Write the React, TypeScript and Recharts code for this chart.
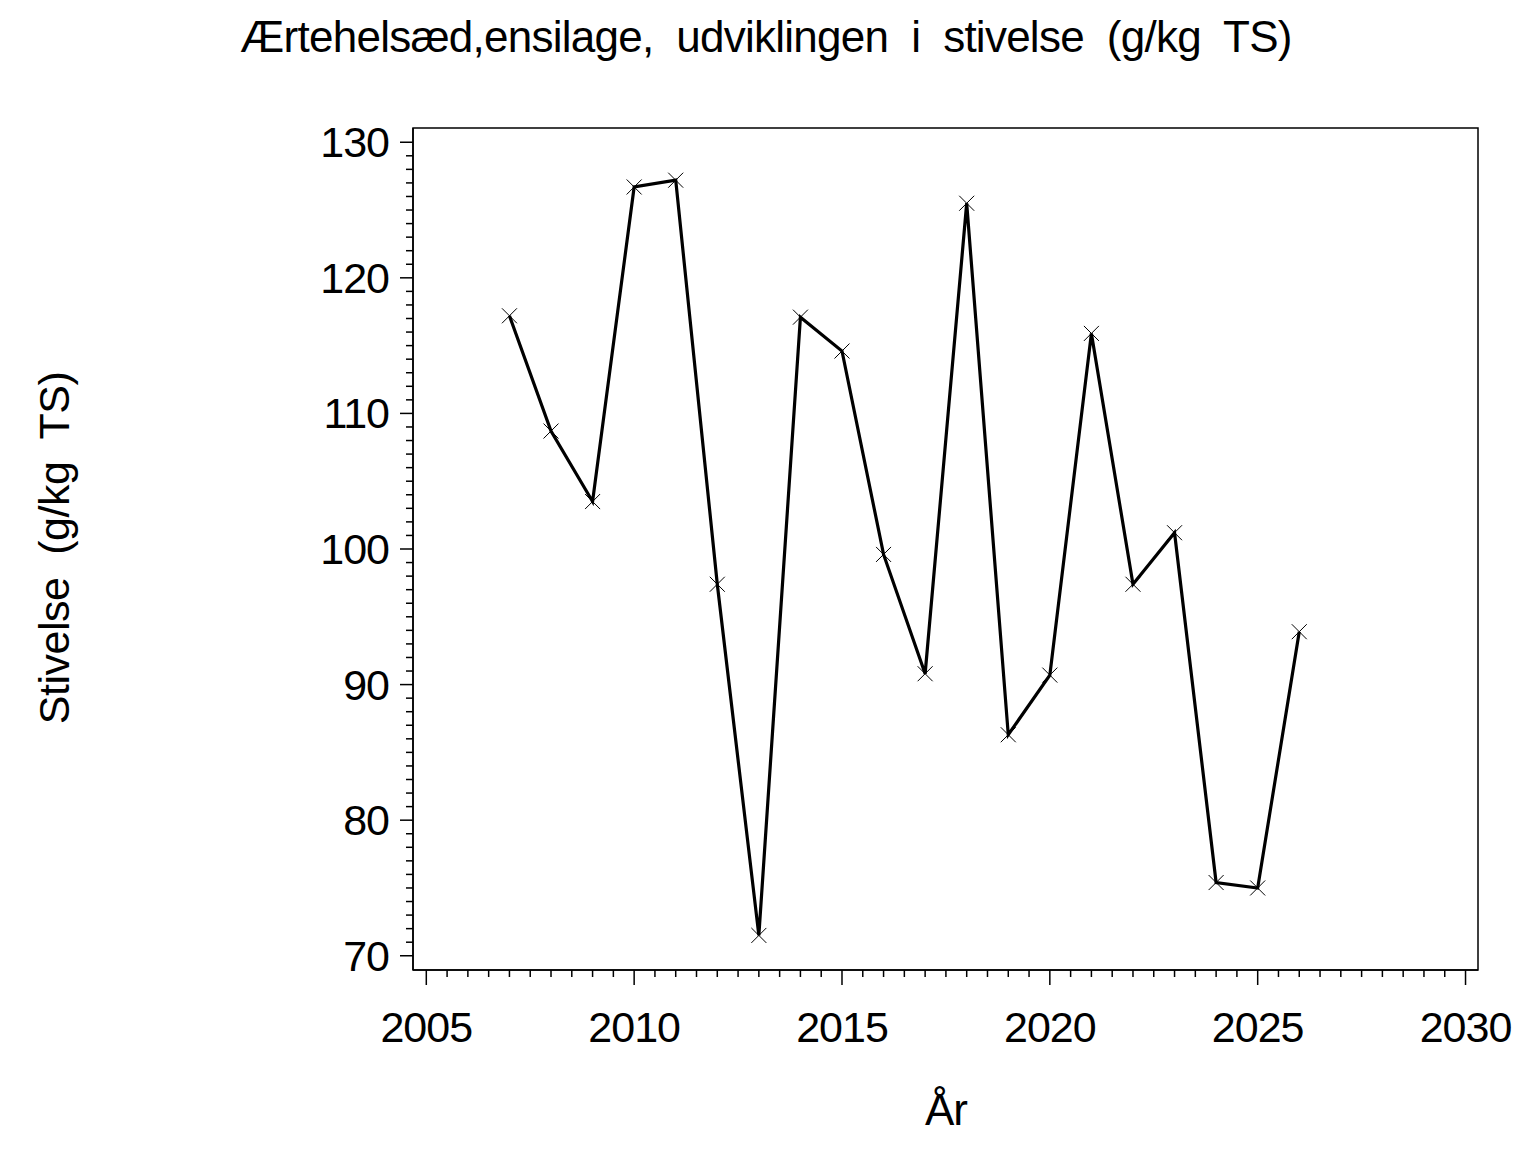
import React from "react";
import { Line, LineChart, ReferenceArea, XAxis, YAxis } from "recharts";

const years = [
  2007, 2008, 2009, 2010, 2011, 2012, 2013, 2014, 2015, 2016,
  2017, 2018, 2019, 2020, 2021, 2022, 2023, 2024, 2025, 2026,
];
const starch = [
  117.2, 108.7, 103.5, 126.7, 127.2, 97.4, 71.5, 117.1, 114.6, 99.6,
  90.8, 125.5, 86.3, 90.7, 115.9, 97.4, 101.2, 75.4, 75.0, 93.9,
];

const xTicks: number[] = [];
for (let t = 2005; t <= 2030; t += 0.5) xTicks.push(t);
const yTicks: number[] = [];
for (let t = 70; t <= 130; t += 1) yTicks.push(t);

const xDomain: [number, number] = [2004.68, 2030.3];
const yDomain: [number, number] = [68.95, 131.05];

const data = years.map((year, i) => ({ year, v: starch[i] }));

const FONT = "'Liberation Sans', Arial, Helvetica, sans-serif";

function YTick(props: any) {
  const { x, y, payload } = props;
  const major = payload.value % 10 === 0;
  return (
    <g>
      <line x1={x} x2={x - (major ? 13 : 7)} y1={y} y2={y} stroke="#000" strokeWidth={1.5} />
      {major && (
        <text x={x - 24} y={y + 15} textAnchor="end" fontSize={43} fontFamily={FONT} letterSpacing={-1} fill="#000">
          {payload.value}
        </text>
      )}
    </g>
  );
}

function XTick(props: any) {
  const { x, y, payload } = props;
  const major = payload.value % 5 === 0;
  return (
    <g>
      <line x1={x} x2={x} y1={y} y2={y + (major ? 15 : 7)} stroke="#000" strokeWidth={1.5} />
      {major && (
        <text x={x} y={y + 72} textAnchor="middle" fontSize={43} fontFamily={FONT} letterSpacing={-1} fill="#000">
          {payload.value}
        </text>
      )}
    </g>
  );
}

function Cross(props: any) {
  const { cx, cy } = props;
  if (cx == null || cy == null) return null;
  const s = 7.5;
  return (
    <g>
      <line x1={cx - s} y1={cy - s} x2={cx + s} y2={cy + s} stroke="#000" strokeWidth={1} />
      <line x1={cx - s} y1={cy + s} x2={cx + s} y2={cy - s} stroke="#000" strokeWidth={1} />
    </g>
  );
}

export default function App() {
  return (
    <div style={{ position: "absolute", left: 0, top: 0, width: 1536, height: 1152, background: "#fff" }}>
      <LineChart width={1536} height={1152} data={data} margin={{ top: 128, right: 58, bottom: 0, left: 0 }}>
        <ReferenceArea
          x1={xDomain[0]}
          x2={xDomain[1]}
          y1={yDomain[0]}
          y2={yDomain[1]}
          fill="none"
          stroke="#000"
          strokeWidth={1.5}
          ifOverflow="visible"
        />
        <XAxis
          type="number"
          dataKey="year"
          domain={xDomain}
          ticks={xTicks}
          interval={0}
          allowDataOverflow
          height={182}
          tickSize={0}
          tickMargin={0}
          tickLine={false}
          axisLine={{ stroke: "#000", strokeWidth: 1.5 }}
          tick={<XTick />}
        />
        <YAxis
          type="number"
          domain={yDomain}
          ticks={yTicks}
          interval={0}
          allowDataOverflow
          width={413}
          tickSize={0}
          tickMargin={0}
          tickLine={false}
          axisLine={{ stroke: "#000", strokeWidth: 1.5 }}
          tick={<YTick />}
        />
        <Line
          type="linear"
          dataKey="v"
          stroke="#000"
          strokeWidth={3.2}
          dot={<Cross />}
          activeDot={false}
          isAnimationActive={false}
        />
      </LineChart>
      <svg width={1536} height={1152} style={{ position: "absolute", left: 0, top: 0, pointerEvents: "none" }}>
        <text x={766} y={52} textAnchor="middle" fontSize={44} fontFamily={FONT} letterSpacing={-0.75} style={{ whiteSpace: "pre" }}>
          {"Ærtehelsæd,ensilage,  udviklingen  i  stivelse  (g/kg  TS)"}
        </text>
        <text
          x={0}
          y={0}
          transform="translate(69,548) rotate(-90)"
          textAnchor="middle"
          fontSize={43}
          fontFamily={FONT}
          letterSpacing={-0.5}
          style={{ whiteSpace: "pre" }}
        >
          {"Stivelse  (g/kg  TS)"}
        </text>
        <text x={946} y={1125} textAnchor="middle" fontSize={44} fontFamily={FONT} letterSpacing={-1}>
          År
        </text>
      </svg>
    </div>
  );
}
